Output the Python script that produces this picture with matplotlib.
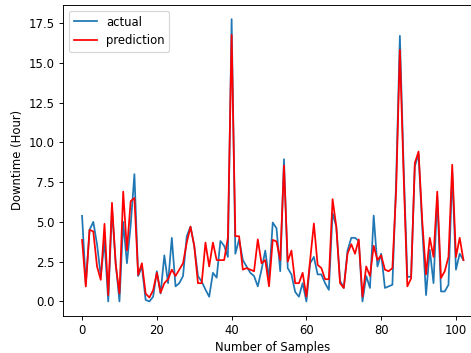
import matplotlib
matplotlib.use("Agg")
import matplotlib.pyplot as plt
import numpy as np

actual = [5.38, 1.1, 4.5, 5.0, 3.6, 1.6, 3.8, 0.0, 5.8, 2.4,
          0.0, 5.0, 2.4, 4.8, 8.0, 1.6, 2.2, 0.1, 0.0, 0.3,
          1.9, 0.5, 2.9, 1.15, 4.0, 0.95, 1.15, 1.6, 4.1, 4.7,
          3.5, 1.6, 1.25, 0.75, 0.3, 1.8, 1.5, 3.8, 3.5, 2.8,
          17.74, 3.0, 3.9, 2.6, 2.2, 1.8, 1.6, 0.95, 2.0, 3.2,
          1.4, 4.96, 4.6, 1.9, 8.94, 2.1, 1.7, 0.6, 0.3, 1.15,
          0.0, 2.4, 2.8, 1.7, 1.7, 1.15, 0.73, 5.55, 4.7, 1.3,
          0.85, 3.2, 4.0, 4.0, 3.8, 0.0, 1.6, 0.85, 5.4, 2.2,
          3.0, 0.85, 0.95, 1.05, 7.5, 16.69, 8.5, 1.55, 1.55, 8.5,
          9.25, 4.6, 0.4, 3.25, 1.15, 6.6, 0.63, 0.63, 1.05, 8.1,
          2.0, 3.0, 2.6]

prediction = [3.87, 0.94, 4.5, 4.4, 2.2, 1.36, 4.88, 0.4, 6.2, 2.3,
              0.5, 6.9, 3.2, 6.3, 6.5, 1.67, 2.4, 0.5, 0.25, 0.7,
              1.8, 0.55, 1.15, 1.4, 2.0, 1.6, 2.0, 2.4, 3.7, 4.7,
              3.5, 1.15, 1.15, 3.7, 2.2, 3.7, 2.6, 2.6, 2.6, 4.0,
              16.75, 4.1, 4.1, 2.0, 2.1, 2.0, 1.9, 3.9, 2.4, 2.6,
              0.95, 3.87, 3.77, 2.6, 8.54, 2.5, 3.2, 1.15, 1.15, 1.8,
              0.3, 2.6, 4.9, 2.3, 2.1, 1.4, 1.4, 6.43, 4.7, 1.15,
              0.85, 3.0, 3.6, 3.0, 3.9, 0.3, 2.2, 1.6, 3.5, 2.6,
              2.9, 2.0, 1.9, 2.1, 7.0, 15.81, 8.0, 0.95, 1.45, 8.7,
              9.42, 5.0, 1.7, 4.0, 2.8, 6.9, 1.47, 1.9, 2.8, 8.59,
              2.8, 4.0, 2.6]

samples = np.arange(len(actual))

W, H = 472, 353
fig = plt.figure(figsize=(W / 84, H / 84), dpi=84)
ax = fig.add_axes([63 / W, (H - 315.6) / H, 419.5 / W, 310.6 / H])
ax.plot(samples, actual, color="#1f77b4", label="actual")
ax.plot(samples, prediction, color="red", label="prediction")
ax.set_xlabel("Number of Samples")
ax.set_ylabel("Downtime (Hour)")
ax.legend(loc="upper left")
fig.savefig("out.png", dpi=84)
